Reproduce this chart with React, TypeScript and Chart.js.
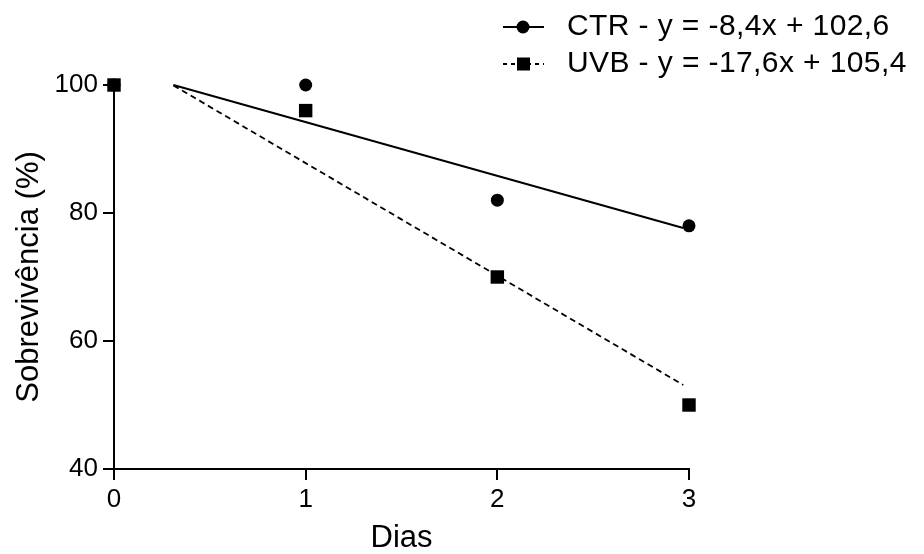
import React, { useEffect, useRef } from "react";
import { Chart, registerables } from "chart.js";

Chart.register(...registerables);

// ---- data ----
const days = [0, 1, 2, 3];
const ctrValues = [100, 100, 82, 78];
const uvbValues = [100, 96, 70, 50];
// regression line end points (as drawn in the reference)
const ctrFitX = [0.31, 2.97];
const ctrFitY = [100.0, 77.65];
const uvbFitX = [0.31, 2.97];
const uvbFitY = [99.94, 53.13];
const xTicks = [0, 1, 2, 3];
const yTicks = [40, 60, 80, 100];
const legendLabels = ["CTR - y = -8,4x + 102,6", "UVB - y = -17,6x + 105,4"];
const xTitle = "Dias";
const yTitle = "Sobrevivência (%)";

const FONT = "'Liberation Sans', Arial, Helvetica, sans-serif";
const TICK_FS = 26;
const TITLE_FS = 31;
const LEGEND_FS = 30;

const legendPlugin = {
  id: "eqLegend",
  afterDraw(chart: any) {
    const ctx = chart.ctx as CanvasRenderingContext2D;
    ctx.save();
    const rows = [
      { y: 27, dash: [] as number[], marker: "circle", label: legendLabels[0] },
      { y: 64, dash: [4, 4], marker: "rect", label: legendLabels[1] },
    ];
    rows.forEach((r) => {
      ctx.strokeStyle = "#000";
      ctx.fillStyle = "#000";
      ctx.lineWidth = 2;
      ctx.setLineDash(r.dash);
      ctx.beginPath();
      ctx.moveTo(503, r.y);
      ctx.lineTo(544, r.y);
      ctx.stroke();
      ctx.setLineDash([]);
      ctx.beginPath();
      if (r.marker === "circle") {
        ctx.arc(523, r.y, 6.5, 0, Math.PI * 2);
      } else {
        ctx.rect(517, r.y - 6.5, 13, 13);
      }
      ctx.fill();
      ctx.font = `${LEGEND_FS}px ${FONT}`;
      (ctx as any).letterSpacing = "0.4px";
      ctx.textBaseline = "middle";
      ctx.textAlign = "left";
      ctx.fillText(r.label, 567, r.y);
      (ctx as any).letterSpacing = "0px";
    });
    ctx.restore();
  },
};

export default function App() {
  const ref = useRef<HTMLCanvasElement | null>(null);
  useEffect(() => {
    if (!ref.current) return;
    const chart = new Chart(ref.current, {
      type: "scatter",
      data: {
        datasets: [
          {
            label: "UVB",
            data: days.map((d, i) => ({ x: d, y: uvbValues[i] })),
            pointStyle: "rect",
            pointRadius: 9.5,
            pointBackgroundColor: "#000",
            pointBorderColor: "#000",
            pointBorderWidth: 0,
            showLine: false,
            clip: false,
          },
          {
            label: "CTR",
            data: days.map((d, i) => ({ x: d, y: ctrValues[i] })),
            pointStyle: "circle",
            pointRadius: 6.5,
            pointBackgroundColor: "#000",
            pointBorderColor: "#000",
            pointBorderWidth: 0,
            showLine: false,
            clip: false,
          },
          {
            label: "CTR fit",
            data: ctrFitX.map((x, i) => ({ x, y: ctrFitY[i] })),
            showLine: true,
            borderColor: "#000",
            borderWidth: 2,
            pointRadius: 0,
            clip: false,
          },
          {
            label: "UVB fit",
            data: uvbFitX.map((x, i) => ({ x, y: uvbFitY[i] })),
            showLine: true,
            borderColor: "#000",
            borderWidth: 1.8,
            borderDash: [6, 4],
            pointRadius: 0,
            clip: false,
          },
        ],
      },
      options: {
        responsive: false,
        animation: false,
        devicePixelRatio: 1,
        layout: { padding: { top: 85, right: 235, left: 0, bottom: 0 } },
        plugins: {
          legend: { display: false },
          tooltip: { enabled: false },
        },
        scales: {
          x: {
            type: "linear",
            min: 0,
            max: 3,
            afterBuildTicks: (s: any) => {
              s.ticks = xTicks.map((v) => ({ value: v }));
            },
            afterFit: (s: any) => {
              s.height = 85;
            },
            ticks: {
              color: "#000",
              font: { family: FONT, size: TICK_FS },
              padding: 4,
              maxRotation: 0,
            },
            grid: {
              display: true,
              drawOnChartArea: false,
              drawTicks: true,
              tickLength: 11,
              color: "#000",
              lineWidth: 2,
            },
            border: { display: true, color: "#000", width: 2 },
            title: {
              display: true,
              text: xTitle,
              color: "#000",
              font: { family: FONT, size: TITLE_FS, lineHeight: 1 },
              padding: 0,
            },
          },
          y: {
            type: "linear",
            min: 40,
            max: 100,
            afterBuildTicks: (s: any) => {
              s.ticks = yTicks.map((v) => ({ value: v }));
            },
            afterFit: (s: any) => {
              s.width = 114;
            },
            ticks: {
              color: "#000",
              font: { family: FONT, size: TICK_FS },
              padding: 5,
            },
            grid: {
              display: true,
              drawOnChartArea: false,
              drawTicks: true,
              tickLength: 11,
              color: "#000",
              lineWidth: 2,
            },
            border: { display: true, color: "#000", width: 2 },
            title: {
              display: true,
              text: yTitle,
              color: "#000",
              font: { family: FONT, size: TITLE_FS, lineHeight: 1 },
              padding: { top: 14, bottom: 0 },
            },
          },
        },
      },
      plugins: [legendPlugin],
    });
    return () => chart.destroy();
  }, []);
  return (
    <div style={{ position: "absolute", left: 0, top: 0, width: 924, height: 554 }}>
      <canvas ref={ref} width={924} height={554} style={{ display: "block" }} />
    </div>
  );
}
